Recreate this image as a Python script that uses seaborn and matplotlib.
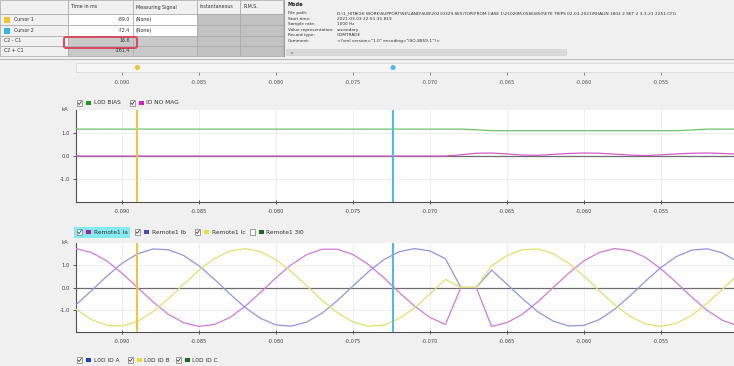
import matplotlib
matplotlib.use("Agg")
import matplotlib.pyplot as plt
from matplotlib.patches import Rectangle, FancyBboxPatch
from matplotlib.transforms import blended_transform_factory
import numpy as np
import pandas as pd
import seaborn as sns

# ---------------- record data (1 kHz samples, time in ms) ----------------
time_ms = list(range(-93, -49))

remote1_ia = [1.75, 1.58, 1.20, 0.64, 0.00, -0.64, -1.20, -1.58, -1.75, -1.66,
              -1.35, -0.84, -0.22, 0.44, 1.03, 1.48, 1.72, 1.72, 1.48, 1.03,
              0.44, -0.22, -0.84, -1.35, -1.66, 0.00, 0.00, -1.75, -1.58, -1.20,
              -0.64, 0.00, 0.64, 1.20, 1.58, 1.75, 1.66, 1.35, 0.84, 0.22,
              -0.44, -1.03, -1.48, -1.72]
remote1_ib = [-0.78, -0.15, 0.50, 1.09, 1.51, 1.73, 1.70, 1.44, 0.97, 0.37,
              -0.29, -0.90, -1.39, -1.68, -1.74, -1.55, -1.15, -0.58, 0.07, 0.71,
              1.25, 1.61, 1.75, 1.64, 1.30, 0.00, 0.00, 0.78, 0.15, -0.50,
              -1.09, -1.51, -1.73, -1.70, -1.44, -0.97, -0.37, 0.29, 0.90, 1.39,
              1.68, 1.74, 1.55, 1.15]
remote1_ic = [-0.97, -1.44, -1.70, -1.73, -1.52, -1.09, -0.51, 0.15, 0.78, 1.30,
              1.64, 1.75, 1.61, 1.25, 0.71, 0.07, -0.58, -1.14, -1.55, -1.74,
              -1.69, -1.39, -0.91, -0.29, 0.36, 0.00, 0.00, 0.97, 1.44, 1.70,
              1.73, 1.52, 1.09, 0.51, -0.15, -0.78, -1.30, -1.64, -1.75, -1.61,
              -1.25, -0.71, -0.07, 0.58]
l0d_bias = [1.17, 1.17, 1.17, 1.17, 1.17, 1.17, 1.17, 1.17, 1.17, 1.17,
            1.17, 1.17, 1.17, 1.17, 1.17, 1.17, 1.17, 1.17, 1.17, 1.17,
            1.17, 1.17, 1.17, 1.17, 1.17, 1.17, 1.14, 1.10, 1.10, 1.10,
            1.10, 1.10, 1.10, 1.10, 1.10, 1.10, 1.10, 1.10, 1.10, 1.10,
            1.13, 1.17, 1.17, 1.17]
id_no_mag = [0.00, 0.00, 0.00, 0.00, 0.00, 0.00, 0.00, 0.00, 0.00, 0.00,
             0.00, 0.00, 0.00, 0.00, 0.00, 0.00, 0.00, 0.00, 0.00, 0.00,
             0.00, 0.00, 0.00, 0.00, 0.00, 0.05, 0.12, 0.13, 0.09, 0.04,
             0.03, 0.07, 0.11, 0.13, 0.12, 0.08, 0.04, 0.02, 0.05, 0.09,
             0.12, 0.13, 0.11, 0.08]

cursor_ms = [-89.0, -72.4]
tick_s = [-0.090, -0.085, -0.080, -0.075, -0.070, -0.065, -0.060, -0.055]
view_s = (-0.09299, -0.05026)

upper_names = ["L0D BIAS", "ID NO MAG"]
lower_names = ["Remote1 Ia", "Remote1 Ib", "Remote1 Ic", "Remote1 3I0"]
bottom_names = ["L0D ID A", "L0D ID B", "L0D ID C"]

upper_line_colors = {"L0D BIAS": "#6cc46c", "ID NO MAG": "#d25ccc"}
lower_line_colors = {"Remote1 Ia": "#d47ad4", "Remote1 Ib": "#9494e2", "Remote1 Ic": "#e0e070"}

table_header = ["", "Time in ms", "Measuring Signal", "Instantaneous", "R.M.S."]
table_rows = ["Cursor 1", "Cursor 2", "C2 - C1", "C2 + C1"]

info_keys = ["File path:", "Start time:", "Sample rate:", "Value representation:",
             "Record type:", "Comment:"]
info_vals = [r"D:\1_HITACHI WORK\SUPPORT\NE\LAND\SUB\20210329-SE5\TOR\FROM CASE 1\21020M-0586\850\E7E TRIPS 02-03-2021\RHALIN 1802 2 SET 2 3-3-21 2251.CFG",
             "2021-03-03 22:51:31.819", "1000 Hz", "secondary", "COMTRADE",
             '<?xml version="1.0" encoding="ISO-8859-1"?>']

# ---------------- frames for seaborn ----------------
t_s = np.array(time_ms) / 1000.0
n = len(time_ms)
upper_df = pd.DataFrame({
    "t": np.concatenate([t_s, t_s]),
    "kA": l0d_bias + id_no_mag,
    "signal": [upper_names[0]] * n + [upper_names[1]] * n,
})
lower_df = pd.DataFrame({
    "t": np.concatenate([t_s, t_s, t_s]),
    "kA": remote1_ia + remote1_ib + remote1_ic,
    "signal": [lower_names[0]] * n + [lower_names[1]] * n + [lower_names[2]] * n,
})

W, H = 734, 366
plt.rcParams["font.family"] = ["DejaVu Sans"]
fig = plt.figure(figsize=(W / 100, H / 100), dpi=100, facecolor="#f0f0f0")


def box(x0, y0, x1, y1):
    return [x0 / W, 1 - y1 / H, (x1 - x0) / W, (y1 - y0) / H]


# user-interface layer in pixel coordinates
ui = fig.add_axes([0, 0, 1, 1])
ui.set_xlim(0, W)
ui.set_ylim(H, 0)
ui.axis("off")

# ---- cursor table ----
col_x = [0, 68, 133, 197, 240, 283]
row_y = [0, 14, 25, 36, 46, 56]
grid_c = "#a8a8a8"
for r in range(5):
    for c in range(5):
        x0, x1 = col_x[c], col_x[c + 1]
        y0, y1 = row_y[r], row_y[r + 1]
        if r == 0 or c == 0:
            fc = "#f0f0f0"
        elif c in (1, 2) and r in (1, 2):
            fc = "white"
        elif c in (1, 2):
            fc = "#c9c9c9"
        else:
            fc = "#c2c2c2"
        ui.add_patch(Rectangle((x0, y0), x1 - x0, y1 - y0, facecolor=fc,
                               edgecolor=grid_c, lw=0.5))
for c in range(1, 5):
    ui.text(col_x[c] + 3, (row_y[0] + row_y[1]) / 2, table_header[c],
            fontsize=3.4, va="center", ha="left", color="#303030")
icon_colors = ["#f2c230", "#36b4e2"]
time_vals = [cursor_ms[0], cursor_ms[1], cursor_ms[1] - cursor_ms[0], cursor_ms[1] + cursor_ms[0]]
for r, name in enumerate(table_rows):
    yc = (row_y[r + 1] + row_y[r + 2]) / 2
    tx = 4
    if r < 2:
        ui.add_patch(Rectangle((4, yc - 3), 6, 6, facecolor=icon_colors[r], edgecolor="none"))
        tx = 14
    ui.text(tx, yc, name, fontsize=3.4, va="center", ha="left", color="#303030")
    ui.text(col_x[2] - 3, yc, f"{time_vals[r]:.1f}", fontsize=3.4, va="center",
            ha="right", color="#303030")
    if r < 2:
        ui.text(col_x[2] + 3, yc, "(None)", fontsize=3.4, va="center", ha="left",
                color="#303030")
ui.add_patch(FancyBboxPatch((64, 37), 73, 11, boxstyle="round,pad=0,rounding_size=2",
                            facecolor="none", edgecolor="#d8485a", lw=1.4))

# ---- record information panel ----
ui.add_patch(Rectangle((284, 0), 1.2, 57, facecolor="#9a9a9a", edgecolor="none"))
ui.text(288, 5, "Mode", fontsize=3.6, fontweight="bold", va="center", color="#202020")
for i, (k, v) in enumerate(zip(info_keys, info_vals)):
    yy = 13 + i * 5.6
    ui.text(288, yy, k, fontsize=3.1, va="center", color="#303030")
    ui.text(337, yy, v, fontsize=3.1, va="center", color="#303030")
ui.add_patch(Rectangle((286, 49), 280, 6, facecolor="#dadada", edgecolor="#c8c8c8", lw=0.4))
ui.text(289, 52, "<", fontsize=3.2, va="center", color="#404040")
ui.add_patch(Rectangle((0, 58.5), W, 1.2, facecolor="#b8b8b8", edgecolor="none"))

# ---- legend rows ----
def checkbox(x, y, checked=True):
    ui.add_patch(Rectangle((x, y - 2.6), 5.2, 5.2, facecolor="white",
                           edgecolor="#7a7a7a", lw=0.5))
    if checked:
        ui.plot([x + 1.1, x + 2.3, x + 4.3], [y + 0.1, y + 1.5, y - 1.6],
                color="#404040", lw=0.6)


def legend_entry(x, y, label, color, checked=True):
    checkbox(x, y, checked)
    ui.add_patch(Rectangle((x + 9, y - 2.4), 4.8, 4.8, facecolor=color, edgecolor="none"))
    ui.text(x + 16.5, y, label, fontsize=4.2, va="center", ha="left", color="#303030")


legend_entry(77, 103, upper_names[0], "#1f9a1f")
legend_entry(130, 103, upper_names[1], "#d61cd6")

ui.add_patch(Rectangle((74, 226.5), 56, 11, facecolor="#86eaf2", edgecolor="none"))
legend_entry(77, 232, lower_names[0], "#a8209a")
legend_entry(135, 232, lower_names[1], "#4050b4")
legend_entry(195, 232, lower_names[2], "#e2e23c")
legend_entry(250, 232, lower_names[3], "#1a6a1a", checked=False)

legend_entry(77, 360, bottom_names[0], "#2040c4")
legend_entry(128, 360, bottom_names[1], "#e8e030")
legend_entry(176, 360, bottom_names[2], "#1a6a1a")

tick_labels = [f"{v:.3f}" for v in tick_s]

# ---- time ruler ----
ruler = fig.add_axes(box(76, 63, 734, 72))
ruler.set_facecolor("#f6f6f6")
ruler.set_xlim(*view_s)
ruler.set_ylim(0, 1)
ruler.set_yticks([])
ruler.set_xticks(tick_s)
ruler.set_xticklabels(tick_labels)
ruler.tick_params(axis="x", labelsize=3.6, colors="#505050", length=2, width=0.5, pad=3.5)
for s in ruler.spines.values():
    s.set_color("#d4d4d4")
    s.set_linewidth(0.5)
sns.scatterplot(x=[c / 1000 for c in cursor_ms], y=[0.5, 0.5], hue=["c1", "c2"],
                palette=["#f0c43a", "#5ab6e8"], s=14, legend=False, ax=ruler,
                edgecolor="none", clip_on=False)
ruler.set_xlabel("")
ruler.set_ylabel("")


# ---- waveform panels ----
def style_plot(ax):
    ax.set_facecolor("white")
    ax.set_xlim(*view_s)
    ax.set_ylim(-2.0, 2.0)
    ax.set_xticks(tick_s)
    ax.set_xticklabels(tick_labels)
    ax.set_yticks([-1, 0, 1])
    ax.set_yticklabels(["-1.0", "0.0", "1.0"])
    ax.tick_params(axis="y", labelsize=3.8, colors="#404040", length=2.5, width=0.6, pad=2)
    ax.tick_params(axis="x", labelsize=3.6, colors="#404040", direction="inout",
                   length=3, width=0.6, pad=3.5)
    for s in ("top", "right"):
        ax.spines[s].set_visible(False)
    for s in ("left", "bottom"):
        ax.spines[s].set_color("#505050")
        ax.spines[s].set_linewidth(0.8)
    ax.grid(True, color="#ededed", lw=0.6)
    ax.set_axisbelow(True)
    ax.axhline(0, color="#6e6e6e", lw=0.9, zorder=1)
    ax.text(-0.012, 2.0, "kA", transform=blended_transform_factory(ax.transAxes, ax.transData),
            ha="right", va="center", fontsize=3.8, color="#404040")
    for c, col in zip(cursor_ms, ["#f2c33c", "#4cb8e6"]):
        ax.axvline(c / 1000, color=col, lw=1.4, zorder=5)
    ax.set_xlabel("")
    ax.set_ylabel("")


ax1 = fig.add_axes(box(76, 110, 734, 202))
sns.lineplot(data=upper_df, x="t", y="kA", hue="signal", hue_order=upper_names,
             palette=upper_line_colors, estimator=None, sort=False, lw=0.9,
             legend=False, ax=ax1, zorder=3)
style_plot(ax1)

ax2 = fig.add_axes(box(76, 243, 734, 332))
sns.lineplot(data=lower_df, x="t", y="kA", hue="signal", hue_order=lower_names[:3],
             palette=lower_line_colors, estimator=None, sort=False, lw=0.9,
             legend=False, ax=ax2, zorder=3)
style_plot(ax2)

fig.savefig("out.png", dpi=100, facecolor=fig.get_facecolor())
